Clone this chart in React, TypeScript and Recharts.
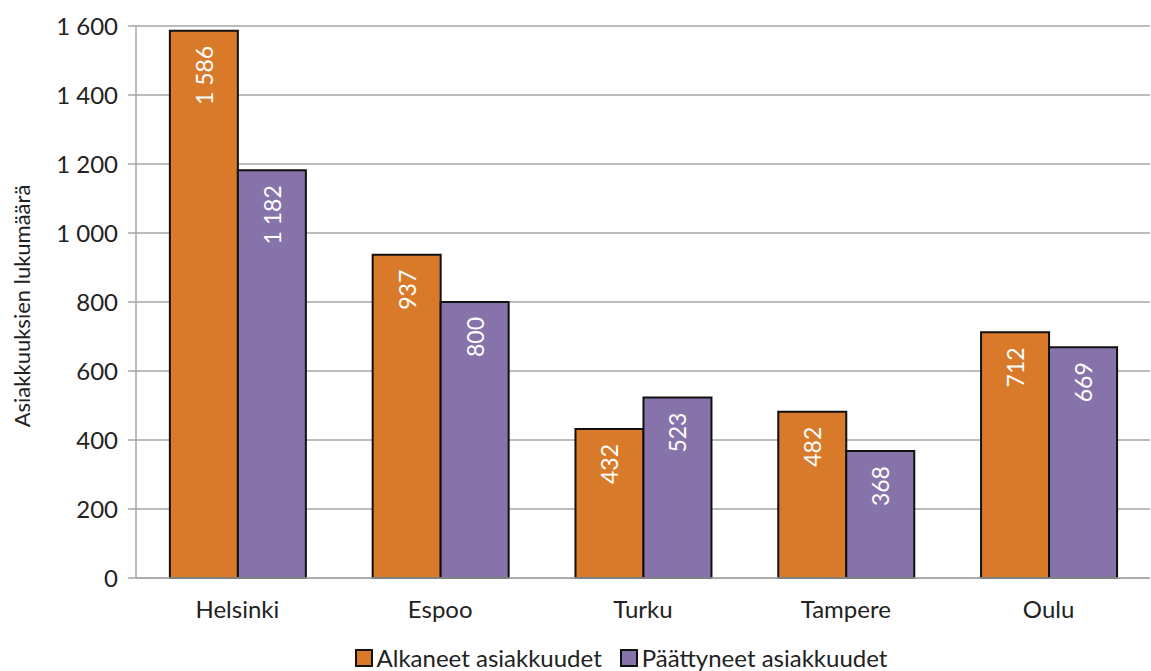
// @ts-nocheck
import { BarChart, Bar, XAxis, YAxis, CartesianGrid, Legend, LabelList } from "recharts";

const cities = ["Helsinki", "Espoo", "Turku", "Tampere", "Oulu"];
const alkaneet = [1586, 937, 432, 482, 712];
const paattyneet = [1182, 800, 523, 368, 669];
const yTicks = [0, 200, 400, 600, 800, 1000, 1200, 1400, 1600];

const ORANGE = "#D97A2A";
const PURPLE = "#8673A9";
const FONT = "Lato, 'Open Sans', sans-serif";

const data = cities.map((city, i) => ({ city, alkaneet: alkaneet[i], paattyneet: paattyneet[i] }));

const fmt = (v: number) => {
  const s = String(v);
  return s.length > 3 ? s.slice(0, s.length - 3) + " " + s.slice(-3) : s;
};

const BarLabel = (props) => {
  const { x, y, width, value } = props;
  const cx = x + width / 2;
  const ty = y + 15;
  return (
    <text
      x={cx}
      y={ty}
      transform={`rotate(-90 ${cx} ${ty})`}
      textAnchor="end"
      dominantBaseline="central"
      fill="#fff"
      fontSize={23}
      fontFamily={FONT}
    >
      {fmt(value)}
    </text>
  );
};

const LegendContent = () => (
  <div style={{ display: "flex", justifyContent: "center", fontFamily: FONT, fontSize: 24, color: "#222", paddingLeft: 70, paddingTop: 3 }}>
    {[
      ["Alkaneet asiakkuudet", ORANGE],
      ["Päättyneet asiakkuudet", PURPLE],
    ].map(([name, color]) => (
      <div key={name} style={{ display: "flex", alignItems: "center", marginRight: 18 }}>
        <span style={{ display: "inline-block", width: 14, height: 14, background: color, border: "2px solid #111", marginRight: 4 }} />
        {name}
      </div>
    ))}
  </div>
);

export default function App() {
  return (
    <div style={{ position: "absolute", left: 0, top: 0, width: 1151, height: 671, background: "#fff" }}>
      <BarChart
        width={1151}
        height={671}
        data={data}
        margin={{ top: 26, right: 1, left: 40, bottom: 0 }}
        barCategoryGap="16.7%"
        barGap={0}
      >
        <CartesianGrid vertical={false} stroke="#A6A6A6" strokeWidth={1.5} />
        <XAxis
          dataKey="city"
          tickLine={false}
          axisLine={{ stroke: "#A6A6A6", strokeWidth: 1.5 }}
          tick={{ fill: "#222", fontSize: 24, fontFamily: FONT }}
          tickMargin={17}
          height={62}
        />
        <YAxis
          width={96}
          domain={[0, 1600]}
          ticks={yTicks}
          interval={0}
          tickFormatter={fmt}
          tickSize={8}
          tickLine={{ stroke: "#A6A6A6", strokeWidth: 1.5 }}
          axisLine={{ stroke: "#A6A6A6", strokeWidth: 1.5 }}
          tick={{ fill: "#222", fontSize: 24, fontFamily: FONT }}
          tickMargin={10}
          label={{
            value: "Asiakkuuksien lukumäärä",
            angle: -90,
            position: "insideLeft",
            offset: 0,
            dx: -18,
            dy: 4,
            style: { textAnchor: "middle", fill: "#222", fontSize: 22, fontFamily: FONT },
          }}
        />
        <Legend verticalAlign="bottom" height={31} content={<LegendContent />} />
        <Bar dataKey="alkaneet" name="Alkaneet asiakkuudet" fill={ORANGE} stroke="#111" strokeWidth={2} isAnimationActive={false}>
          <LabelList dataKey="alkaneet" content={<BarLabel />} />
        </Bar>
        <Bar dataKey="paattyneet" name="Päättyneet asiakkuudet" fill={PURPLE} stroke="#111" strokeWidth={2} isAnimationActive={false}>
          <LabelList dataKey="paattyneet" content={<BarLabel />} />
        </Bar>
      </BarChart>
    </div>
  );
}
